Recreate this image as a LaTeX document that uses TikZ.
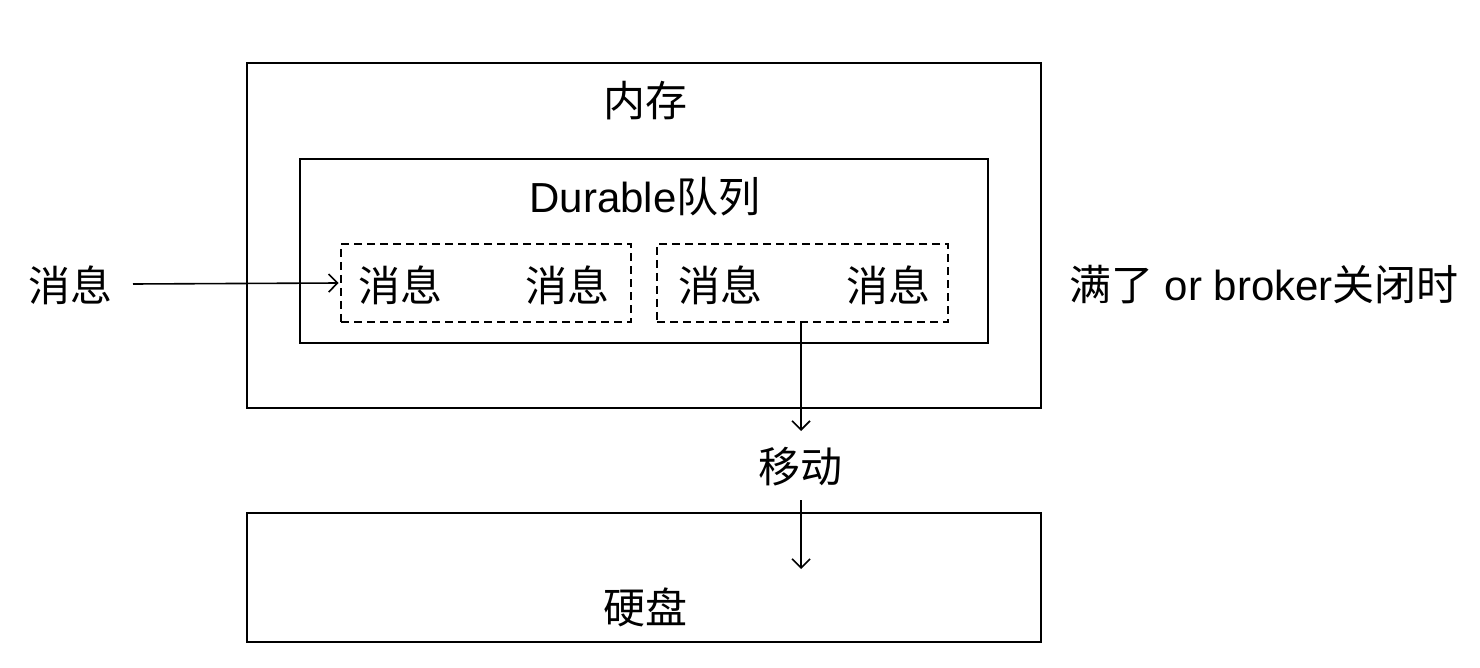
\documentclass[tikz,border=0pt]{standalone}
\usepackage{fontspec}
\setmainfont{Liberation Sans}
\newfontfamily\cjk{Noto Sans CJK SC}
\usetikzlibrary{arrows.meta}
\begin{document}
\begin{tikzpicture}[x=1pt,y=-1pt,
  box/.style={draw,line width=1.6pt,inner sep=0pt},
  dbox/.style={draw,line width=1.6pt,dash pattern=on 8pt off 5pt,inner sep=0pt},
  lbl/.style={font=\fontsize{42}{44}\selectfont\cjk,inner sep=0pt},
  lat/.style={font=\fontsize{42}{44}\selectfont,inner sep=0pt},
  conn/.style={line width=1.6pt,-{Straight Barb[length=9pt,width=18pt,line width=1.6pt]}}]
\useasboundingbox (0,0) rectangle (1480,668);
\fill[white] (0,0) rectangle (1480,668);
% boxes
\node[box,minimum width=794pt,minimum height=345pt] (mem) at (644,235.5) {};
\node[box,minimum width=688pt,minimum height=184pt] (dur) at (644,251) {};
\node[dbox,minimum width=290pt,minimum height=78pt] (q1) at (486,283) {};
\node[dbox,minimum width=291pt,minimum height=78pt] (q2) at (802.5,283) {};
\node[box,minimum width=794pt,minimum height=129pt] (disk) at (644,577.5) {};
% labels
\node[lbl] (memt) at (645,101) {内存};
\node[lat] (durt) at (645,197) {Durable{\cjk 队列}};
\node[lbl] (m1) at (400,285) {消息};
\node[lbl] (m2) at (567,285) {消息};
\node[lbl] (m3) at (720,285) {消息};
\node[lbl] (m4) at (888,285) {消息};
\node[lbl] (src) at (70,285) {消息};
\node[lat,anchor=west] (full) at (1069,285) {{\cjk 满了} or broker{\cjk 关闭时}};
\node[lbl] (move) at (800,467) {移动};
\node[lbl] (diskt) at (645,607) {硬盘};
% connectors
\coordinate (srcR) at (133,284);
\coordinate (q2b) at (801,322);
\coordinate (mvT) at (801,431);
\coordinate (mvB) at (801,500);
\coordinate (endD) at (801,569);
\draw[conn] (srcR) -- ([xshift=-1.5pt]q1.west);
\draw[conn] (q2b) -- (mvT);
\draw[conn] (mvB) -- (endD);
\end{tikzpicture}
\end{document}
